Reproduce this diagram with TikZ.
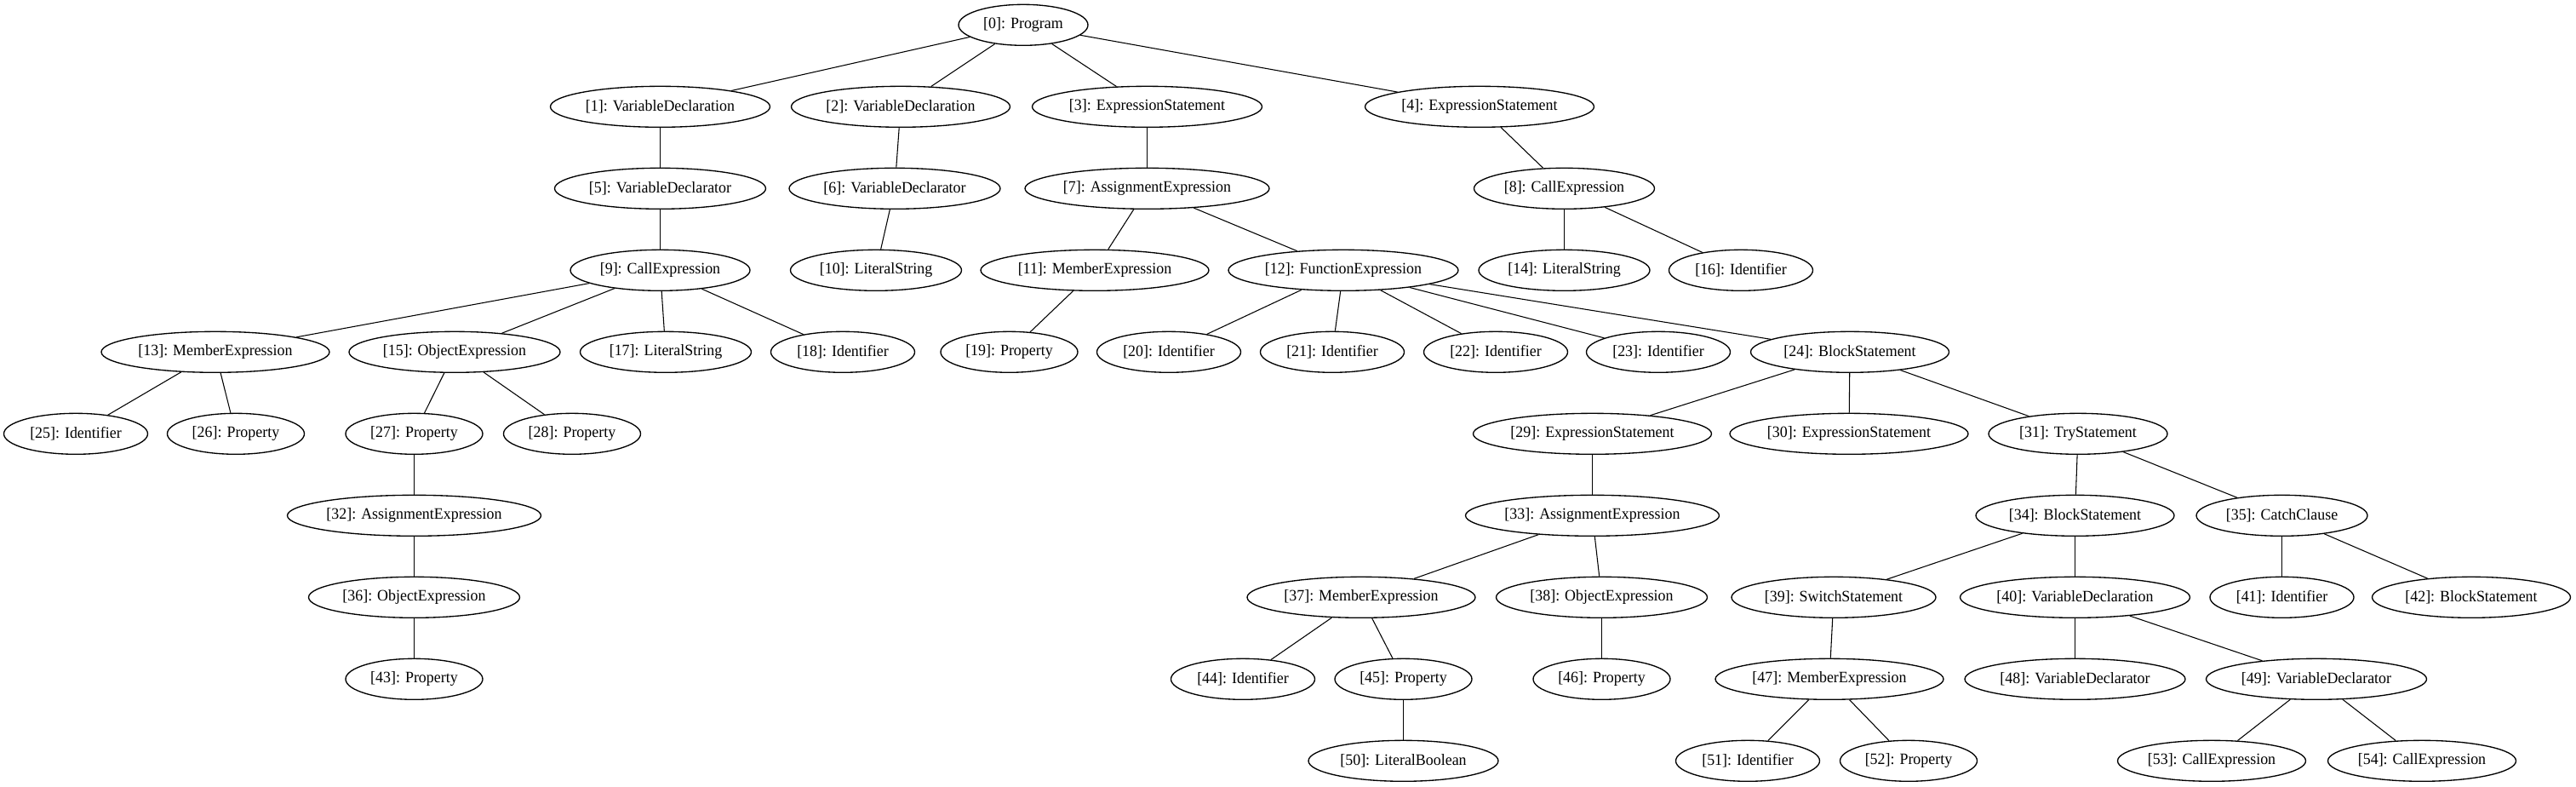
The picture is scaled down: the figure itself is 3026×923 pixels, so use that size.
\documentclass[tikz,border=0pt]{standalone}
\usepackage{fontspec}
\setmainfont{Liberation Serif}[FakeStretch=0.96]
\usetikzlibrary{shapes.geometric}
\tikzset{
  nd/.style={draw=black, ellipse, line width=1bp, inner sep=0pt,
    minimum height=36bp, minimum width={#1*0.75bp},
    font=\fontsize{14bp}{16bp}\selectfont},
  edge/.style={draw=black, line width=0.8bp}
}
\newcommand{\lbl}[1]{\makebox[0pt]{#1}}
\begin{document}
\begin{tikzpicture}[x=0.75bp,y=-0.75bp]
\useasboundingbox (0,0) rectangle (3026,923);
% rank 0
\node[nd=152] (n0) at (1202,29.3) {\lbl{[0]: Program}};
% rank 1
\node[nd=258] (n1) at (775.5,125.3) {\lbl{[1]: VariableDeclaration}};
\node[nd=257] (n2) at (1058,125.3) {\lbl{[2]: VariableDeclaration}};
\node[nd=270] (n3) at (1347.5,125.3) {\lbl{[3]: ExpressionStatement}};
\node[nd=269] (n4) at (1738,125.3) {\lbl{[4]: ExpressionStatement}};
% rank 2
\node[nd=248] (n5) at (775.5,221.3) {\lbl{[5]: VariableDeclarator}};
\node[nd=248] (n6) at (1051,221.3) {\lbl{[6]: VariableDeclarator}};
\node[nd=287] (n7) at (1347.5,221.3) {\lbl{[7]: AssignmentExpression}};
\node[nd=212] (n8) at (1837.5,221.3) {\lbl{[8]: CallExpression}};
% rank 3
\node[nd=211] (n9) at (775.5,317.3) {\lbl{[9]: CallExpression}};
\node[nd=201] (n10) at (1029,317.3) {\lbl{[10]: LiteralString}};
\node[nd=268] (n11) at (1286,317.3) {\lbl{[11]: MemberExpression}};
\node[nd=270] (n12) at (1578,317.3) {\lbl{[12]: FunctionExpression}};
\node[nd=201] (n14) at (1837.5,317.3) {\lbl{[14]: LiteralString}};
\node[nd=169] (n16) at (2045,317.3) {\lbl{[16]: Identifier}};
% rank 4
\node[nd=268] (n13) at (253,413.3) {\lbl{[13]: MemberExpression}};
\node[nd=248] (n15) at (534,413.3) {\lbl{[15]: ObjectExpression}};
\node[nd=201] (n17) at (782,413.3) {\lbl{[17]: LiteralString}};
\node[nd=169] (n18) at (990,413.3) {\lbl{[18]: Identifier}};
\node[nd=161] (n19) at (1185.5,413.3) {\lbl{[19]: Property}};
\node[nd=169] (n20) at (1373,413.3) {\lbl{[20]: Identifier}};
\node[nd=169] (n21) at (1565,413.3) {\lbl{[21]: Identifier}};
\node[nd=169] (n22) at (1757,413.3) {\lbl{[22]: Identifier}};
\node[nd=169] (n23) at (1948,413.3) {\lbl{[23]: Identifier}};
\node[nd=233] (n24) at (2173,413.3) {\lbl{[24]: BlockStatement}};
% rank 5
\node[nd=169] (n25) at (89,509.3) {\lbl{[25]: Identifier}};
\node[nd=161] (n26) at (277,509.3) {\lbl{[26]: Property}};
\node[nd=161] (n27) at (486.5,509.3) {\lbl{[27]: Property}};
\node[nd=161] (n28) at (672,509.3) {\lbl{[28]: Property}};
\node[nd=280] (n29) at (1870.5,509.3) {\lbl{[29]: ExpressionStatement}};
\node[nd=280] (n30) at (2172,509.3) {\lbl{[30]: ExpressionStatement}};
\node[nd=210] (n31) at (2441,509.3) {\lbl{[31]: TryStatement}};
% rank 6
\node[nd=298] (n32) at (486.5,605.3) {\lbl{[32]: AssignmentExpression}};
\node[nd=298] (n33) at (1870.5,605.3) {\lbl{[33]: AssignmentExpression}};
\node[nd=233] (n34) at (2437.5,605.3) {\lbl{[34]: BlockStatement}};
\node[nd=201] (n35) at (2680.5,605.3) {\lbl{[35]: CatchClause}};
% rank 7
\node[nd=248] (n36) at (486.5,701.3) {\lbl{[36]: ObjectExpression}};
\node[nd=268] (n37) at (1599,701.3) {\lbl{[37]: MemberExpression}};
\node[nd=248] (n38) at (1881.5,701.3) {\lbl{[38]: ObjectExpression}};
\node[nd=240] (n39) at (2154,701.3) {\lbl{[39]: SwitchStatement}};
\node[nd=270] (n40) at (2437.5,701.3) {\lbl{[40]: VariableDeclaration}};
\node[nd=169] (n41) at (2680.5,701.3) {\lbl{[41]: Identifier}};
\node[nd=233] (n42) at (2903,701.3) {\lbl{[42]: BlockStatement}};
% rank 8
\node[nd=161] (n43) at (486.5,797.3) {\lbl{[43]: Property}};
\node[nd=169] (n44) at (1460,797.3) {\lbl{[44]: Identifier}};
\node[nd=161] (n45) at (1648.5,797.3) {\lbl{[45]: Property}};
\node[nd=161] (n46) at (1881.5,797.3) {\lbl{[46]: Property}};
\node[nd=268] (n47) at (2149,797.3) {\lbl{[47]: MemberExpression}};
\node[nd=259] (n48) at (2437.5,797.3) {\lbl{[48]: VariableDeclarator}};
\node[nd=259] (n49) at (2721,797.3) {\lbl{[49]: VariableDeclarator}};
% rank 9
\node[nd=223] (n50) at (1648.5,893.3) {\lbl{[50]: LiteralBoolean}};
\node[nd=169] (n51) at (2053,893.3) {\lbl{[51]: Identifier}};
\node[nd=161] (n52) at (2242,893.3) {\lbl{[52]: Property}};
\node[nd=221] (n53) at (2598,893.3) {\lbl{[53]: CallExpression}};
\node[nd=221] (n54) at (2845,893.3) {\lbl{[54]: CallExpression}};
% edges
\foreach \a/\b in {0/1,0/2,0/3,0/4,1/5,2/6,3/7,4/8,5/9,6/10,7/11,7/12,8/14,8/16,
  9/13,9/15,9/17,9/18,11/19,12/20,12/21,12/22,12/23,12/24,13/25,13/26,15/27,15/28,
  24/29,24/30,24/31,27/32,29/33,31/34,31/35,32/36,33/37,33/38,34/39,34/40,35/41,35/42,
  36/43,37/44,37/45,38/46,39/47,40/48,40/49,45/50,47/51,47/52,49/53,49/54}
  \draw[edge] (n\a) -- (n\b);
\end{tikzpicture}
\end{document}
